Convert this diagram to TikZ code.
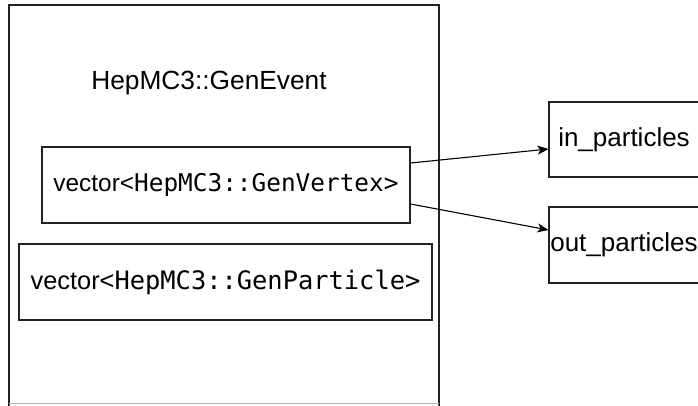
\documentclass[tikz,border=0pt]{standalone}
\usepackage{fontspec}
\setmainfont{Liberation Sans}
\setmonofont{DejaVu Sans Mono}
\usetikzlibrary{arrows.meta}
\definecolor{linec}{HTML}{222222}
\tikzset{
  boxst/.style={draw=linec, line width=1.1pt, rectangle, inner sep=0pt, align=center},
  conn/.style={draw=black, line width=1.1pt, -{Stealth[length=11pt,width=9pt,inset=3pt]}},
}
\newcommand{\vt}[2]{{\fontsize{#1}{28}\selectfont vector<\ttfamily #2>}}
\begin{document}
\begin{tikzpicture}[x=1pt,y=-1pt]
\useasboundingbox (0,0) rectangle (698,405);
\fill[white] (0,0) rectangle (698,405);
% outer GenEvent box
\draw[linec, line width=1.1pt] (9,410) -- (9,5) -- (439,5) -- (439,410);
\draw[black!30, line width=0.8pt] (9,403.5) -- (439,403.5);
\node[font=\fontsize{26.3}{30}\selectfont] (title) at (209,83) {HepMC3::GenEvent};
\node[boxst, minimum width=368pt, minimum height=76pt] (vtx) at (226,185) {\vt{24.4}{HepMC3::GenVertex}};
\node[boxst, minimum width=413pt, minimum height=76pt] (prt) at (225.5,282) {\vt{25.4}{HepMC3::GenParticle}};
\node[boxst, minimum width=150pt, minimum height=75pt, font=\fontsize{26}{30}\selectfont] (inp) at (624,139.5) {in\_particles};
\node[boxst, minimum width=150pt, minimum height=76pt, font=\fontsize{26}{30}\selectfont] (outp) at (624,245) {out\_particles};
\draw[conn] ([yshift=22pt]vtx.east) -- ([yshift=-9.5pt]inp.west);
\draw[conn] ([yshift=-19pt]vtx.east) -- ([yshift=15pt]outp.west);
\end{tikzpicture}
\end{document}
